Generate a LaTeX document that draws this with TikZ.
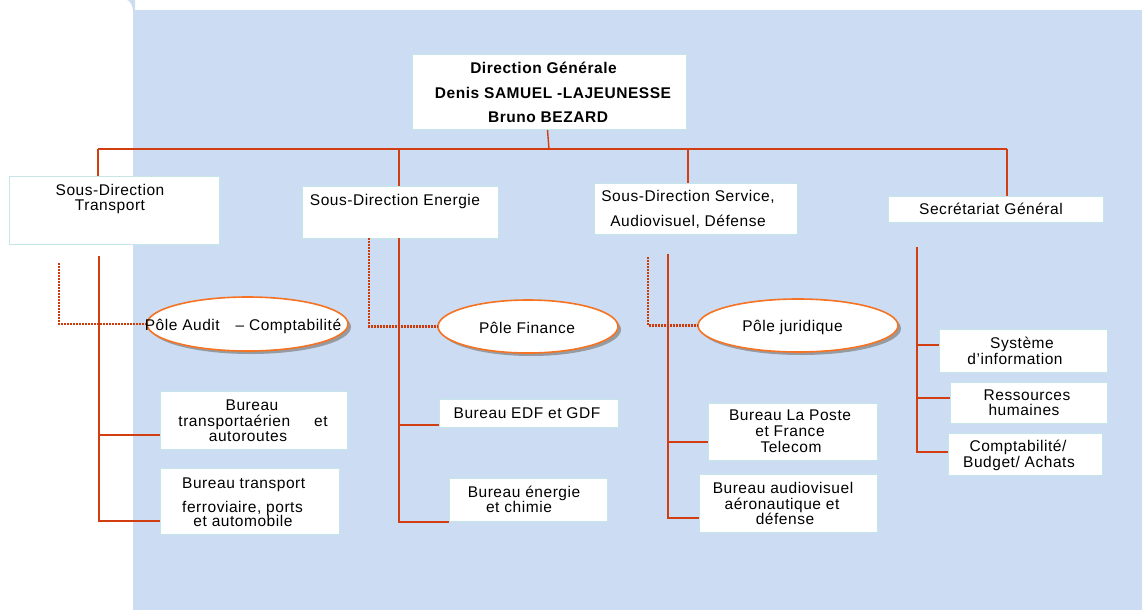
\documentclass[tikz,border=0pt]{standalone}
\usepackage{fontspec}
\setmainfont{Liberation Sans}[LetterSpace=3.5]
\usetikzlibrary{shapes.geometric,shadows}
\definecolor{bgblue}{RGB}{204,220,242}
\definecolor{conn}{RGB}{210,62,18}
\definecolor{dotconn}{RGB}{205,58,12}
\definecolor{ellborder}{RGB}{245,115,35}
\definecolor{boxborder}{RGB}{196,230,232}
\newcommand{\fsz}{\fontsize{15.5pt}{18pt}\selectfont}
\begin{document}
\begin{tikzpicture}[x=1pt,y=-1pt,
  box/.style={draw=boxborder, line width=1pt, fill=white, inner sep=0pt, anchor=north west},
  lbl/.style={inner sep=0pt, font=\fsz, text height=11pt, text depth=0pt},
  blbl/.style={lbl, font=\fsz\bfseries},
  conline/.style={draw=conn, line width=1.4pt},
  dotline/.style={draw=dotconn, line width=2.4pt, dash pattern=on 2pt off 1pt},
  pole/.style={ellipse, draw=ellborder, line width=1.6pt, fill=white, inner sep=0pt,
    drop shadow={shadow xshift=3pt, shadow yshift=-3pt, fill=black!50, opacity=0.7}},
]
\useasboundingbox (0,0) rectangle (1142,610);
% background
\fill[bgblue] (133,10) rectangle (1142,610);
\fill[bgblue] (127,0) -- (135,0) -- (135,12) -- (133,12) .. controls (133,5) and (130,1) .. (127,0);

% bus
\coordinate (busL) at (98,149);
\coordinate (busE) at (399,149);
\coordinate (busS) at (688,149);
\coordinate (busR) at (1007,149);
\coordinate (busDG) at (549,149);

% boxes
\node[box, minimum width=274pt, minimum height=75pt] (dg) at (412,54) {};
\node[box, minimum width=210pt, minimum height=68pt] (sdt) at (9,176) {};
\node[box, minimum width=196pt, minimum height=52pt] (sde) at (302,186) {};
\node[box, minimum width=203pt, minimum height=51pt] (sds) at (594,183) {};
\node[box, minimum width=215pt, minimum height=26pt] (sg) at (888,196) {};

\node[box, minimum width=187.5pt, minimum height=58pt] (b1) at (159.5,391) {};
\node[box, minimum width=179pt, minimum height=66pt] (b2) at (159.5,468) {};
\node[box, minimum width=179pt, minimum height=28pt] (edf) at (439,399) {};
\node[box, minimum width=158pt, minimum height=43pt] (e2) at (449,478) {};
\node[box, minimum width=169pt, minimum height=57pt] (lp) at (708,403) {};
\node[box, minimum width=178pt, minimum height=58pt] (av) at (699,474) {};
\node[box, minimum width=168pt, minimum height=43pt] (si) at (939,329) {};
\node[box, minimum width=157pt, minimum height=41pt] (rh) at (950,382) {};
\node[box, minimum width=154pt, minimum height=42pt] (cb) at (948,433) {};

% ellipses
\node[pole, minimum width=201pt, minimum height=54pt] (pa) at (247.5,324) {};
\node[pole, minimum width=180pt, minimum height=53pt] (pf) at (528,326.5) {};
\node[pole, minimum width=200pt, minimum height=53pt] (pj) at (798,325.5) {};

% top connectors
\draw[conline] (busL) -- (busR);
\draw[conline] ([xshift=-2pt]dg.south) -- (busDG);
\draw[conline] (busL) -- (busL |- sdt.north);
\draw[conline] (busE) -- (busE |- sde.north);
\draw[conline] (busS) -- (busS |- sds.north);
\draw[conline] (busR) -- (busR |- sg.north);

% transport column
\coordinate (tTop) at (99,256);
\coordinate (tB1) at (99,435);
\coordinate (tB2) at (99,521);
\draw[conline] (tTop) -- (tB2) -- (tB2 -| b2.west);
\draw[conline] (tB1) -- (tB1 -| b1.west);
\coordinate (tDot) at (59,263);
\draw[dotline] (tDot) |- (pa.west);

% energie column
\coordinate (eTop) at (399,238);
\coordinate (eB1) at (399,425);
\coordinate (eB2) at (399,522);
\draw[conline] (eTop) -- (eB2) -- (eB2 -| e2.west);
\draw[conline] (eB1) -- (eB1 -| edf.west);
\coordinate (eDot) at (369,238);
\draw[dotline] (eDot) |- (pf.west);

% service column
\coordinate (sTop) at (668,254);
\coordinate (sB1) at (668,442);
\coordinate (sB2) at (668,518);
\draw[conline] (sTop) -- (sB2) -- (sB2 -| av.west);
\draw[conline] (sB1) -- (sB1 -| lp.west);
\coordinate (sDot) at (648,257);
\draw[dotline] (sDot) |- (pj.west);

% secretariat column
\coordinate (gTop) at (917,247);
\coordinate (gB1) at (917,345);
\coordinate (gB2) at (917,398);
\coordinate (gB3) at (917,452);
\draw[conline] (gTop) -- (gB3) -- (gB3 -| cb.west);
\draw[conline] (gB1) -- (gB1 -| si.west);
\draw[conline] (gB2) -- (gB2 -| rh.west);

% texts
\node[blbl] (dg1) at (543.5,68) {Direction Générale};
\node[blbl] (dg2) at (553,93) {Denis SAMUEL -LAJEUNESSE};
\node[blbl] (dg3) at (548,117) {Bruno BEZARD};
\node[lbl] (sdt1) at (110,190) {Sous-Direction};
\node[lbl] (sdt2) at (110,205) {Transport};
\node[lbl] (sde1) at (395,200) {Sous-Direction Energie};
\node[lbl] (sds1) at (688,196) {Sous-Direction Service,};
\node[lbl] (sds2) at (688,221) {Audiovisuel, Défense};
\node[lbl] (sg1) at (991,209) {Secrétariat Général};
\node[lbl] (pat) at (243,325) {Pôle Audit\hspace{11pt} – Comptabilité};
\node[lbl] (pft) at (527,328) {Pôle Finance};
\node[lbl] (pjt) at (792.5,326) {Pôle juridique};
\node[lbl] (b1a) at (252,405) {Bureau};
\node[lbl] (b1b) at (253,421) {transportaérien\hspace{19pt} et};
\node[lbl] (b1c) at (248,436) {autoroutes};
\node[lbl, anchor=west] (b2a) at (182,483) {Bureau transport};
\node[lbl, anchor=west] (b2b) at (182,507) {ferroviaire, ports};
\node[lbl] (b2c) at (243,521) {et automobile};
\node[lbl] (edft) at (527,413) {Bureau EDF et GDF};
\node[lbl] (e2a) at (524,492) {Bureau énergie};
\node[lbl] (e2b) at (519,507) {et chimie};
\node[lbl] (lpa) at (790,415) {Bureau La Poste};
\node[lbl] (lpb) at (790,431) {et France};
\node[lbl] (lpc) at (791,447) {Telecom};
\node[lbl] (ava) at (783,488) {Bureau audiovisuel};
\node[lbl] (avb) at (782,504) {aéronautique et};
\node[lbl] (avc) at (785,519) {défense};
\node[lbl] (sia) at (1022,343) {Système};
\node[lbl] (sib) at (1015,359) {d'information};
\node[lbl] (rha) at (1027,395) {Ressources};
\node[lbl] (rhb) at (1024,410) {humaines};
\node[lbl] (cba) at (1018,446) {Comptabilité/};
\node[lbl] (cbb) at (1019,462) {Budget/ Achats};
\end{tikzpicture}
\end{document}
